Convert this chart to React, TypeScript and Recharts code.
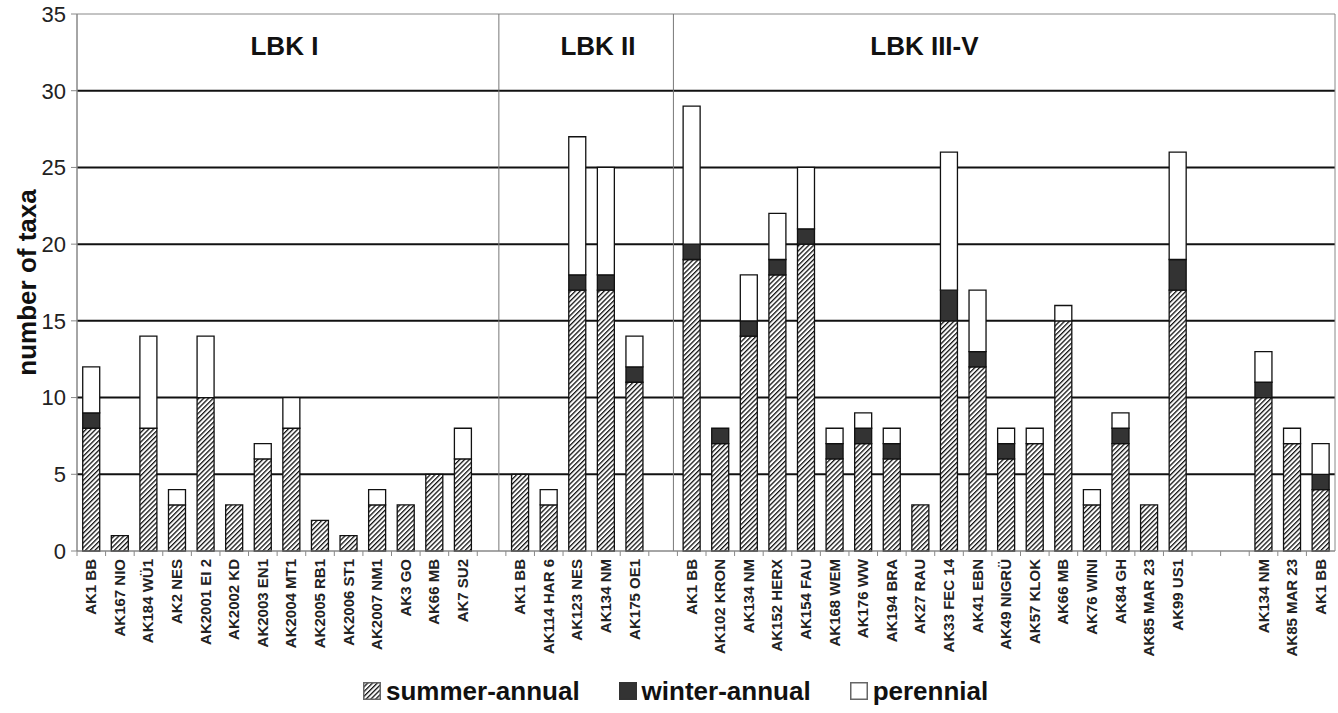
import {
  BarChart,
  Bar,
  XAxis,
  YAxis,
  CartesianGrid,
  Legend,
  ReferenceLine,
  ReferenceArea,
  ReferenceDot,
} from "recharts";

// samples per group; empty strings are the spacer slots between groups
const CATEGORIES = [
  "AK1 BB", "AK167 NIO", "AK184 WÜ1", "AK2 NES", "AK2001 EI 2", "AK2002 KD", "AK2003 EN1",
  "AK2004 MT1", "AK2005 RB1", "AK2006 ST1", "AK2007 NM1", "AK3 GO", "AK66 MB", "AK7 SU2",
  "",
  "AK1 BB", "AK114 HAR 6", "AK123 NES", "AK134 NM", "AK175 OE1",
  "",
  "AK1 BB", "AK102 KRON", "AK134 NM", "AK152 HERX", "AK154 FAU", "AK168 WEM", "AK176 WW",
  "AK194 BRA", "AK27 RAU", "AK33 FEC 14", "AK41 EBN", "AK49 NIGRÜ", "AK57 KLOK", "AK66 MB",
  "AK76 WINI", "AK84 GH", "AK85 MAR 23", "AK99 US1",
  "", "",
  "AK134 NM", "AK85 MAR 23", "AK1 BB",
];

const SUMMER = [
  8, 1, 8, 3, 10, 3, 6, 8, 2, 1, 3, 3, 5, 6,
  null,
  5, 3, 17, 17, 11,
  null,
  19, 7, 14, 18, 20, 6, 7, 6, 3, 15, 12, 6, 7, 15, 3, 7, 3, 17,
  null, null,
  10, 7, 4,
];

const WINTER = [
  1, 0, 0, 0, 0, 0, 0, 0, 0, 0, 0, 0, 0, 0,
  null,
  0, 0, 1, 1, 1,
  null,
  1, 1, 1, 1, 1, 1, 1, 1, 0, 2, 1, 1, 0, 0, 0, 1, 0, 2,
  null, null,
  1, 0, 1,
];

const PERENNIAL = [
  3, 0, 6, 1, 4, 0, 1, 2, 0, 0, 1, 0, 0, 2,
  null,
  0, 1, 9, 7, 2,
  null,
  9, 0, 3, 3, 4, 1, 1, 1, 0, 9, 4, 1, 1, 1, 1, 1, 0, 7,
  null, null,
  2, 1, 2,
];

const Y_TICKS = [0, 5, 10, 15, 20, 25, 30, 35];
const GRID_VALUES = [5, 10, 15, 20, 25, 30];

const GROUPS = ["LBK I", "LBK II", "LBK III-V"];
const GROUP_ANCHORS = [7, 18, 29];
const GROUP_SHIFT = [-7, -8, 4];
const DIVIDERS = [14, 20];
const DIVIDER_SHIFT = [-7, -4];
const LEGEND_ORDER = ["summer", "winter", "perennial"];

const data = CATEGORIES.map((label, i) => ({
  key: `c${i}`,
  label,
  summer: SUMMER[i],
  winter: WINTER[i],
  perennial: PERENNIAL[i],
}));

const FONT = '"Liberation Sans", Arial, sans-serif';

function CategoryTick(props: any) {
  const { x, y, payload } = props;
  const idx = props.index ?? payload.index;
  const label = CATEGORIES[idx];
  const half = payload.offset ?? 0;
  return (
    <g>
      <line x1={x - half} x2={x - half} y1={y} y2={y + 5} stroke="#888" />
      {label && (
        <text
          transform={`translate(${x + 5},${y + 8}) rotate(-90)`}
          textAnchor="end"
          fontSize={15}
          fontWeight="bold"
          fill="#222"
        >
          {label}
        </text>
      )}
    </g>
  );
}

function LegendIcon({ kind }: { kind: string }) {
  return (
    <svg width={18} height={18} style={{ marginRight: 5, flex: "none" }}>
      <rect
        x={0.75}
        y={0.75}
        width={16.5}
        height={16.5}
        fill={kind === "summer" ? "url(#hatch)" : kind === "winter" ? "#333" : "#fff"}
        stroke={kind === "winter" ? "#333" : "#666"}
        strokeWidth={1.5}
      />
    </svg>
  );
}

function renderLegend(props: any) {
  const items = [...(props.payload || [])].sort(
    (a: any, b: any) => LEGEND_ORDER.indexOf(a.dataKey) - LEGEND_ORDER.indexOf(b.dataKey)
  );
  return (
    <div
      style={{
        display: "flex",
        alignItems: "flex-end",
        height: 50,
        paddingBottom: 9,
        boxSizing: "border-box",
        fontFamily: FONT,
      }}
    >
      {items.map((it: any) => (
        <div
          key={it.dataKey}
          style={{
            display: "flex",
            alignItems: "center",
            marginRight: 39,
            fontSize: 26,
            lineHeight: "26px",
            fontWeight: "bold",
            color: "#111",
          }}
        >
          <LegendIcon kind={it.dataKey} />
          {it.value}
        </div>
      ))}
    </div>
  );
}

export default function App() {
  return (
    <div
      style={{
        position: "absolute",
        left: 0,
        top: 0,
        width: 1338,
        height: 713,
        background: "#fff",
        fontFamily: FONT,
      }}
    >
      <BarChart
        width={1338}
        height={713}
        data={data}
        margin={{ top: 14, right: 3, bottom: 0, left: 0 }}
        barCategoryGap="20%"
      >
        <defs>
          <pattern
            id="hatch"
            width={3.4}
            height={3.4}
            patternUnits="userSpaceOnUse"
            patternTransform="rotate(45)"
          >
            <rect width={3.4} height={3.4} fill="#fff" />
            <line x1={0} y1={0} x2={0} y2={3.4} stroke="#111" strokeWidth={2.6} />
          </pattern>
        </defs>
        <CartesianGrid
          vertical={false}
          horizontalValues={GRID_VALUES}
          stroke="#111"
          strokeWidth={2}
        />
        <ReferenceArea y1={0} y2={35} fill="none" stroke="#888" strokeWidth={1} />
        {DIVIDERS.map((i, k) => (
          <ReferenceLine
            key={i}
            x={`c${i}`}
            position="end"
            stroke="#777"
            strokeWidth={1}
            shape={(p: any) => (
              <line
                x1={p.x1 + DIVIDER_SHIFT[k]}
                x2={p.x2 + DIVIDER_SHIFT[k]}
                y1={p.y1}
                y2={p.y2}
                stroke="#777"
                strokeWidth={1}
              />
            )}
          />
        ))}
        <XAxis
          dataKey="key"
          type="category"
          interval={0}
          height={112}
          tickLine={false}
          tickSize={0}
          tickMargin={0}
          axisLine={{ stroke: "#888" }}
          tick={<CategoryTick />}
        />
        <YAxis
          domain={[0, 35]}
          ticks={Y_TICKS}
          interval={0}
          width={77}
          tickSize={6}
          tickMargin={5}
          axisLine={{ stroke: "#888" }}
          tickLine={{ stroke: "#888" }}
          tick={{ fontSize: 22, fill: "#222" }}
          label={{
            content: ({ viewBox }: any) => {
              const cx = viewBox.x + 27;
              const cy = viewBox.y + viewBox.height / 2;
              return (
                <text
                  x={cx}
                  y={cy}
                  transform={`rotate(-90, ${cx}, ${cy})`}
                  textAnchor="middle"
                  dominantBaseline="central"
                  fontSize={26}
                  fontWeight="bold"
                  fill="#111"
                >
                  number of taxa
                </text>
              );
            },
          }}
        />
        {GROUPS.map((name, i) => (
          <ReferenceDot
            key={name}
            x={`c${GROUP_ANCHORS[i]}`}
            y={32.9}
            r={1}
            shape={(p: any) => (
              <text
                x={p.cx + GROUP_SHIFT[i]}
                y={p.cy}
                textAnchor="middle"
                dominantBaseline="central"
                fontSize={26}
                fontWeight="bold"
                fill="#111"
              >
                {name}
              </text>
            )}
          />
        ))}
        <Legend
          verticalAlign="bottom"
          height={50}
          content={renderLegend}
          wrapperStyle={{ left: 363, width: 800, bottom: 0 }}
        />
        <Bar
          dataKey="summer"
          name="summer-annual"
          stackId="s"
          fill="url(#hatch)"
          stroke="#111"
          strokeWidth={1.3}
          isAnimationActive={false}
        />
        <Bar
          dataKey="winter"
          name="winter-annual"
          stackId="s"
          fill="#333"
          stroke="#111"
          strokeWidth={1.3}
          isAnimationActive={false}
        />
        <Bar
          dataKey="perennial"
          name="perennial"
          stackId="s"
          fill="#fff"
          stroke="#111"
          strokeWidth={1.3}
          isAnimationActive={false}
        />
      </BarChart>
    </div>
  );
}
